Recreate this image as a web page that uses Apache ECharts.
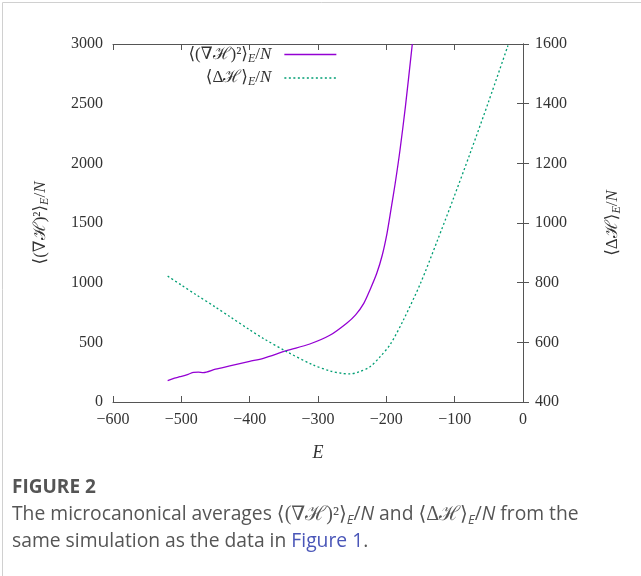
<!DOCTYPE html>
<html>
<head>
<meta charset="utf-8">
<script src="https://cdn.jsdelivr.net/npm/echarts@6/dist/echarts.min.js"></script>
<style>
  html, body { margin: 0; padding: 0; background: #fff; }
  #main { width: 641px; height: 576px; }
</style>
</head>
<body>
<div id="main"></div>
<script>
// energies and values
var gradE = [-520, -510, -502, -490, -482, -475, -468, -450, -429, -400, -380, -346, -312, -282, -258, -245, -233, -224, -214, -206, -199, -193, -187, -180, -172, -162];
var gradV = [180, 200, 212, 232, 249, 250, 246, 275, 302, 340, 366, 430, 486, 561, 660, 730, 827, 939, 1079, 1230, 1414, 1620, 1833, 2112, 2480, 3000];
var lapE = [-520, -500, -478, -450, -429, -400, -380, -346, -307, -282, -265, -253, -240, -224, -209, -194, -175, -150, -126, -102, -77, -50, -22];
var lapV = [822, 792, 759, 718, 686, 642, 613, 569, 524, 504, 496, 494, 501, 518, 552, 594, 675, 798, 937, 1081, 1236, 1409, 1595];
var xTicks = { min: -600, max: 0, interval: 100 };
var leftTicks = { min: 0, max: 3000, interval: 500 };
var rightTicks = { min: 400, max: 1600, interval: 200 };

var serif = '"Liberation Serif", "DejaVu Serif", serif';
var sans = '"Open Sans", "Noto Sans", sans-serif';
var axisCol = '#555';

function pairs(xs, ys) {
  return xs.map(function (x, i) { return [x, ys[i]]; });
}

var mathRich = {
  n: { fontFamily: serif, fontSize: 17, color: '#333' },
  i: { fontFamily: serif, fontSize: 17, fontStyle: 'italic', color: '#333' },
  sub: { fontFamily: serif, fontSize: 12, fontStyle: 'italic', color: '#333', verticalAlign: 'top', padding: [8, 0, 0, 0] }
};
// legend text sits a bit further from its line sample
var legendRich = {
  n: mathRich.n,
  sub: mathRich.sub,
  i: { fontFamily: serif, fontSize: 17, fontStyle: 'italic', color: '#333', padding: [0, 8, 0, 0] }
};

var gradLabel = '{n|⟨(∇ℋ)²⟩}{sub|E}{n|/}{i|N}';
var lapLabel = '{n|⟨Δℋ⟩}{sub|E}{n|/}{i|N}';
var legendText = { grad: gradLabel, lap: lapLabel };

function plainNum(v) {
  return v < 0 ? '−' + Math.abs(v) : String(v);
}

var myChart = echarts.init(document.getElementById('main'));

var option = {
  animation: false,
  grid: { left: 113, right: 118, top: 44, bottom: 174 },
  legend: {
    data: ['grad', 'lap'],
    orient: 'vertical',
    align: 'right',
    right: 304,
    top: 46,
    padding: 0,
    itemWidth: 52,
    itemHeight: 14,
    itemGap: 5,
    itemStyle: { opacity: 0 },
    lineStyle: { width: 1.3 },
    formatter: function (name) { return legendText[name]; },
    textStyle: { rich: legendRich }
  },
  xAxis: [{
    type: 'value',
    min: xTicks.min, max: xTicks.max, interval: xTicks.interval,
    position: 'bottom',
    name: 'E',
    nameLocation: 'middle',
    nameGap: 42,
    nameTextStyle: { fontFamily: serif, fontStyle: 'italic', fontSize: 18, color: '#333' },
    axisLine: { show: true, lineStyle: { color: axisCol, width: 1 } },
    axisTick: { show: true, inside: true, length: 6, lineStyle: { color: axisCol } },
    axisLabel: { margin: 10, fontFamily: serif, fontSize: 16, color: '#333', formatter: plainNum },
    splitLine: { show: false }
  }, {
    type: 'value',
    min: xTicks.min, max: xTicks.max, interval: xTicks.interval,
    position: 'top',
    axisLine: { show: true, lineStyle: { color: axisCol, width: 1 } },
    axisTick: { show: true, inside: true, length: 6, lineStyle: { color: axisCol } },
    axisLabel: { show: false },
    splitLine: { show: false }
  }],
  yAxis: [{
    type: 'value',
    min: leftTicks.min, max: leftTicks.max, interval: leftTicks.interval,
    position: 'left',
    name: gradLabel,
    nameLocation: 'middle',
    nameRotate: 90,
    nameGap: 62,
    nameTextStyle: { rich: mathRich },
    axisLine: { show: true, lineStyle: { color: axisCol, width: 1 } },
    axisTick: { show: true, inside: true, length: 6, lineStyle: { color: axisCol } },
    axisLabel: { margin: 10, fontFamily: serif, fontSize: 16, color: '#333', formatter: plainNum },
    splitLine: { show: false }
  }, {
    type: 'value',
    min: rightTicks.min, max: rightTicks.max, interval: rightTicks.interval,
    position: 'right',
    name: lapLabel,
    nameLocation: 'middle',
    nameRotate: 90,
    nameGap: 80,
    nameTextStyle: { rich: mathRich },
    axisLine: { show: true, lineStyle: { color: axisCol, width: 1 } },
    axisTick: { show: true, inside: true, length: 6, lineStyle: { color: axisCol } },
    axisLabel: { margin: 12, fontFamily: serif, fontSize: 16, color: '#333', formatter: plainNum },
    splitLine: { show: false }
  }],
  series: [{
    name: 'grad',
    type: 'line',
    xAxisIndex: 0,
    yAxisIndex: 0,
    data: pairs(gradE, gradV),
    smooth: 0.3,
    symbol: 'none',
    clip: true,
    color: '#9400d3',
    lineStyle: { color: '#9400d3', width: 1.3 }
  }, {
    name: 'lap',
    type: 'line',
    xAxisIndex: 0,
    yAxisIndex: 1,
    data: pairs(lapE, lapV),
    smooth: 0.3,
    symbol: 'none',
    clip: true,
    color: '#009e73',
    lineStyle: { color: '#009e73', width: 1.3, type: [2, 2.5] }
  }],
  graphic: [
    { type: 'line', shape: { x1: 2.5, y1: 2.5, x2: 641, y2: 2.5 }, style: { stroke: '#d0d0d0', lineWidth: 1 } },
    { type: 'line', shape: { x1: 2.5, y1: 2.5, x2: 2.5, y2: 576 }, style: { stroke: '#d0d0d0', lineWidth: 1 } },
    {
      type: 'text', left: 12, top: 478,
      style: { text: 'FIGURE 2', fontFamily: sans, fontWeight: 'bold', fontSize: 19, fill: '#555' }
    },
    {
      type: 'text', left: 12, top: 505,
      style: {
        text: '{t|The microcanonical averages }{m|⟨(∇ℋ)²⟩}{sb|E}{t|/}{it|N}{t| and }{m|⟨Δℋ⟩}{sb|E}{t|/}{it|N}{t| from the}',
        rich: {
          t: { fontFamily: sans, fontSize: 19.3, fill: '#555' },
          it: { fontFamily: sans, fontStyle: 'italic', fontSize: 19.3, fill: '#555' },
          m: { fontFamily: serif, fontSize: 20, fill: '#555' },
          sb: { fontFamily: sans, fontStyle: 'italic', fontSize: 13, fill: '#555', verticalAlign: 'top', padding: [10, 0, 0, 0] }
        }
      }
    },
    {
      type: 'text', left: 12, top: 532,
      style: {
        text: '{t|same simulation as the data in }{l|Figure 1}{t|.}',
        rich: {
          t: { fontFamily: sans, fontSize: 19.3, fill: '#555' },
          l: { fontFamily: sans, fontSize: 19.3, fill: '#4a56b8' }
        }
      }
    }
  ]
};

myChart.setOption(option);
</script>
</body>
</html>
